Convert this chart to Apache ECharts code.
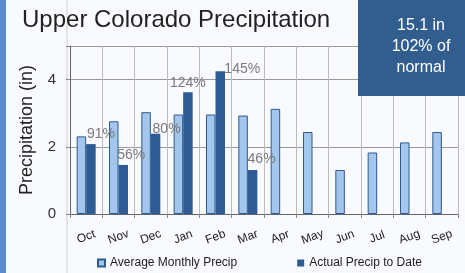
<!DOCTYPE html>
<html>
<head>
<meta charset="utf-8">
<script src="https://cdn.jsdelivr.net/npm/echarts@6/dist/echarts.min.js"></script>
<style>
  html, body { margin: 0; padding: 0; }
  #chart { width: 465px; height: 273px; }
</style>
</head>
<body>
<div id="chart"></div>
<script>
// data
const months = ['Oct', 'Nov', 'Dec', 'Jan', 'Feb', 'Mar', 'Apr', 'May', 'Jun', 'Jul', 'Aug', 'Sep'];
const avgPrecip = [2.31, 2.76, 3.03, 2.96, 2.96, 2.93, 3.13, 2.44, 1.31, 1.83, 2.13, 2.44];
const actualPrecip = [2.08, 1.46, 2.39, 3.62, 4.25, 1.31, null, null, null, null, null, null];
const pctLabels = ['91%', '56%', '80%', '124%', '145%', '46%'];
const pctOffsets = [[10, 0], [8, 0], [11, 5], [0, 1], [22, 8], [9, -1]];
const yTicks = [0, 2, 4];
const infoLines = ['15.1 in', '102% of', 'normal'];

const chart = echarts.init(document.getElementById('chart'));

const actualData = actualPrecip.map((v, i) => {
  if (i < pctLabels.length) {
    return {
      value: v,
      label: { show: true, formatter: pctLabels[i], offset: pctOffsets[i] }
    };
  }
  return v;
});

const option = {
  backgroundColor: '#f8fafd',
  animation: false,
  title: {
    text: 'Upper Colorado Precipitation',
    left: 17,
    top: 3,
    textStyle: { fontFamily: 'Liberation Sans', fontSize: 24, fontWeight: 'normal', color: '#222' }
  },
  graphic: [
    { type: 'rect', shape: { x: 0, y: 0, width: 6, height: 273 }, style: { fill: '#5b8ccb' } },
    { type: 'line', shape: { x1: 67, y1: 0, x2: 67, y2: 273 }, style: { stroke: '#d0d0d0', lineWidth: 1 } },
    { type: 'rect', z: 10, shape: { x: 358, y: 0, width: 107, height: 96 }, style: { fill: '#315d8f' } },
    {
      type: 'text', z: 11,
      style: {
        x: 421, y: 15, text: infoLines.join('\n'), align: 'center', verticalAlign: 'top',
        fill: '#ffffff', font: '16px "Liberation Sans"', lineHeight: 21
      }
    }
  ],
  grid: { left: 70, right: 7, top: 46, bottom: 59, containLabel: false },
  legend: {
    left: 92,
    top: 252,
    itemGap: 60,
    itemWidth: 7,
    itemHeight: 7,
    icon: 'rect',
    textStyle: { fontFamily: 'Liberation Sans', fontSize: 12, color: '#222' },
    data: ['Average Monthly Precip', 'Actual Precip to Date']
  },
  xAxis: {
    type: 'category',
    data: months,
    axisLine: { lineStyle: { color: '#666' } },
    axisTick: { show: true, length: 4, lineStyle: { color: '#888' } },
    splitLine: { show: true, lineStyle: { color: '#bbb' } },
    axisLabel: {
      rotate: 20, margin: 23, align: 'center',
      fontFamily: 'Liberation Sans', fontSize: 12, color: '#222'
    }
  },
  yAxis: {
    type: 'value',
    min: 0,
    max: 5,
    interval: 2,
    name: 'Precipitation (in)',
    nameLocation: 'middle',
    nameGap: 34,
    nameTextStyle: { fontFamily: 'Liberation Sans', fontSize: 18, color: '#222' },
    axisLine: { show: true, lineStyle: { color: '#666' } },
    axisTick: { show: true, length: 4, lineStyle: { color: '#888' } },
    splitLine: { lineStyle: { color: '#999' } },
    axisLabel: {
      margin: 14,
      fontFamily: 'Liberation Sans', fontSize: 15, color: '#333',
      formatter: v => (yTicks.includes(v) ? String(v) : '')
    }
  },
  series: [
    {
      name: 'Average Monthly Precip',
      type: 'bar',
      barWidth: 9.5,
      barGap: '0%',
      itemStyle: { color: '#a3c7ec', borderColor: '#2f5a8c', borderWidth: 1 },
      data: avgPrecip
    },
    {
      name: 'Actual Precip to Date',
      type: 'bar',
      barWidth: 9.5,
      itemStyle: { color: '#2f5b94' },
      label: {
        position: 'top', distance: 3,
        fontFamily: 'Liberation Sans', fontSize: 14, color: '#7a7a7a'
      },
      data: actualData
    }
  ]
};

chart.setOption(option);
</script>
</body>
</html>
